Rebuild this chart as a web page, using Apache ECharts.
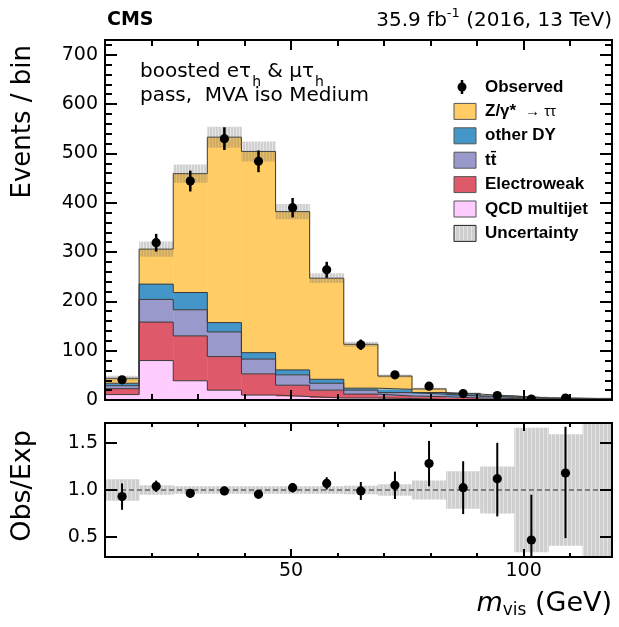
<!DOCTYPE html>
<html><head><meta charset="utf-8">
<script src="https://cdn.jsdelivr.net/npm/echarts@6/dist/echarts.min.js"></script>
<style>html,body{margin:0;padding:0;background:#fff}#c{width:619px;height:627px}</style>
</head><body><div id="c"></div>
<script>
// ---------------- data ----------------
const binEdges = [10, 17.33, 24.67, 32, 39.33, 46.67, 54, 61.33, 68.67, 76, 83.33, 90.67, 98, 105.33, 112.67, 120];
const qcdMultijet = [11, 80, 39, 20, 10, 7, 4, 4, 3, 1, 0.5, 0.3, 0.2, 0.1, 0.1];
const electroweak = [12, 78, 91, 68, 43, 23, 16, 8, 5, 5.7, 3.5, 2.7, 1.5, 1.2, 1.0];
const ttbar       = [6, 46, 53, 50, 30, 21, 14, 8, 7, 5, 4, 2.4, 1.5, 1.2, 0.8];
const otherDY     = [5, 31, 35, 19, 13, 10, 8, 4, 6.6, 3.5, 4, 2.6, 1.0, 0.9, 0.6];
const zTauTau     = [10, 71, 241, 376, 408, 321, 205, 89, 27, 7.3, 1.2, 0, 0.1, 0, 0];
const uncertaintyRel = [0.115, 0.05, 0.04, 0.04, 0.04, 0.04, 0.04, 0.045, 0.06, 0.1, 0.2, 0.25, 0.66, 0.59, 1.0];
const observed    = [41, 319, 444, 530, 484, 390, 264, 112, 51, 28, 13, 9, 2, 4];
const observedErr = [6.4, 17.9, 21.1, 23, 22, 19.7, 16.2, 10.6, 7.1, 5.3, 3.6, 3, 1.4, 2];
const ratio        = [0.93, 1.04, 0.965, 0.99, 0.955, 1.025, 1.07, 0.99, 1.05, 1.28, 1.025, 1.12, 0.47, 1.18];
const ratioErrUp   = [0.14, 0.06, 0.045, 0.045, 0.045, 0.05, 0.065, 0.095, 0.145, 0.24, 0.28, 0.38, 0.48, 0.49];
const ratioErrDown = [0.14, 0.06, 0.045, 0.045, 0.045, 0.05, 0.065, 0.095, 0.145, 0.24, 0.28, 0.40, 0.47, 0.69];
const xMajorTicks = [50, 100];
const xMinorTicks = [20, 30, 40, 60, 70, 80, 90, 110];
const yMajorTicks = [0, 100, 200, 300, 400, 500, 600, 700];
const yMinorTicks = [20, 40, 60, 80, 120, 140, 160, 180, 220, 240, 260, 280, 320, 340, 360, 380, 420, 440, 460, 480, 520, 540, 560, 580, 620, 640, 660, 680, 720];
const ratioTicks = [0.5, 1.0, 1.5];
const legendLabels = ['Observed', 'Z/γ*', 'other DY', 'tt\u0304', 'Electroweak', 'QCD multijet', 'Uncertainty'];

// ---------------- style / layout ----------------
const X_MIN = 10, X_MAX = 119, Y_MAX = 730, R_MIN = 0.29, R_MAX = 1.71;
const FONT = 'DejaVu Sans';
const COLORS = {qcd:'#ffccff', ewk:'#de5a6a', tt:'#9999cc', dy:'#4496c8', ztt:'#ffcc66'};

function stripePattern(c1, c2, w1, w2) {
  const cv = document.createElement('canvas');
  cv.width = w1 + w2; cv.height = 4;
  const ctx = cv.getContext('2d');
  ctx.fillStyle = c1; ctx.fillRect(0, 0, w1, 4);
  ctx.fillStyle = c2; ctx.fillRect(w1, 0, w2, 4);
  return {image: cv, repeat: 'repeat'};
}
const mainBandFill = stripePattern('rgba(100,100,100,0.30)', 'rgba(100,100,100,0.16)', 2, 1);
const ratioBandFill = stripePattern('#cfcfcf', '#e3e3e3', 3, 1);

function rectRender(fill) {
  return function (params, api) {
    const p0 = api.coord([api.value(0), api.value(2)]);
    const p1 = api.coord([api.value(1), api.value(3)]);
    return {type: 'rect', shape: {x: p0[0], y: p1[1], width: p1[0] - p0[0] + 0.4, height: p0[1] - p1[1]},
            style: {fill: fill}};
  };
}
function pointRender(lw, r) {
  return function (params, api) {
    const x = api.value(0), y = api.value(1), up = api.value(2), dn = api.value(3);
    const c = api.coord([x, y]), t = api.coord([x, y + up]), b = api.coord([x, y - dn]);
    return {type: 'group', children: [
      {type: 'line', shape: {x1: c[0], y1: t[1], x2: c[0], y2: b[1]}, style: {stroke: '#000', lineWidth: lw}},
      {type: 'circle', shape: {cx: c[0], cy: c[1], r: r}, style: {fill: '#000'}}
    ]};
  };
}

const nb = binEdges.length - 1;
const layers = [
  {vals: qcdMultijet, color: COLORS.qcd},
  {vals: electroweak, color: COLORS.ewk},
  {vals: ttbar, color: COLORS.tt},
  {vals: otherDY, color: COLORS.dy},
  {vals: zTauTau, color: COLORS.ztt}
];
const series = [];
let base = new Array(nb).fill(0);
const outlines = [];
layers.forEach(function (L) {
  const data = [];
  const top = [];
  for (let i = 0; i < nb; i++) {
    data.push([binEdges[i], binEdges[i + 1], base[i], base[i] + L.vals[i]]);
    top.push(base[i] + L.vals[i]);
  }
  series.push({type: 'custom', xAxisIndex: 0, yAxisIndex: 0, clip: true, silent: true,
    renderItem: rectRender(L.color), encode: {x: [0, 1], y: [2, 3]}, data: data, z: 2});
  const line = [];
  for (let i = 0; i < nb; i++) { line.push([binEdges[i], top[i]]); line.push([binEdges[i + 1], top[i]]); }
  outlines.push(line);
  base = top;
});
const total = base;
outlines.forEach(function (line) {
  series.push({type: 'line', xAxisIndex: 0, yAxisIndex: 0, data: line, symbol: 'none', clip: true, silent: true,
    lineStyle: {color: '#3a3a3a', width: 1}, z: 3});
});
// uncertainty band (main)
series.push({type: 'custom', xAxisIndex: 0, yAxisIndex: 0, clip: true, silent: true, z: 4,
  renderItem: rectRender(mainBandFill), encode: {x: [0, 1], y: [2, 3]},
  data: total.map(function (t, i) { return [binEdges[i], binEdges[i + 1], Math.max(0, t * (1 - uncertaintyRel[i])), t * (1 + uncertaintyRel[i])]; })});
// observed (main)
series.push({type: 'custom', xAxisIndex: 0, yAxisIndex: 0, clip: true, silent: true, z: 6,
  renderItem: pointRender(2.5, 4.6), encode: {x: 0, y: 1},
  data: observed.map(function (v, i) { return [(binEdges[i] + binEdges[i + 1]) / 2, v, observedErr[i], observedErr[i]]; })});
// ratio band
series.push({type: 'custom', xAxisIndex: 4, yAxisIndex: 4, clip: true, silent: true, z: 2,
  renderItem: rectRender(ratioBandFill), encode: {x: [0, 1], y: [2, 3]},
  data: uncertaintyRel.map(function (u, i) { return [binEdges[i], binEdges[i + 1], 1 - u, 1 + u]; })});
// reference line at 1
series.push({type: 'line', xAxisIndex: 4, yAxisIndex: 4, data: [[X_MIN, 1], [X_MAX, 1]], symbol: 'none', silent: true, z: 3,
  lineStyle: {color: '#808080', width: 2, type: [5, 3]}});
// ratio points
series.push({type: 'custom', xAxisIndex: 4, yAxisIndex: 4, clip: true, silent: true, z: 6,
  renderItem: pointRender(2, 4.6), encode: {x: 0, y: 1},
  data: ratio.map(function (v, i) { return [(binEdges[i] + binEdges[i + 1]) / 2, v, ratioErrUp[i], ratioErrDown[i]]; })});

// ---------------- axes ----------------
function xAx(grid, pos, ticks, len, labels) {
  return {type: 'value', gridIndex: grid, position: pos, min: X_MIN, max: X_MAX, z: 10,
    axisLine: {show: true, onZero: false, lineStyle: {color: '#000', width: 2}},
    axisTick: {show: true, inside: true, length: len, customValues: ticks, lineStyle: {color: '#000', width: 2}},
    axisLabel: labels ? {show: true, customValues: ticks, margin: 5, fontFamily: FONT, fontSize: 19, color: '#000'} : {show: false},
    splitLine: {show: false}};
}
function yAx(grid, pos, min, max, ticks, len, labels, fmt) {
  return {type: 'value', gridIndex: grid, position: pos, min: min, max: max, z: 10,
    axisLine: {show: true, onZero: false, lineStyle: {color: '#000', width: 2}},
    axisTick: {show: true, inside: true, length: len, customValues: ticks, lineStyle: {color: '#000', width: 2}},
    axisLabel: labels ? {show: true, customValues: ticks, margin: 7, fontFamily: FONT, fontSize: 19, color: '#000', formatter: fmt} : {show: false},
    splitLine: {show: false}};
}

const option = {
  animation: false,
  backgroundColor: '#fff',
  grid: [
    {left: 105, top: 40, width: 507, height: 360},
    {left: 105, top: 423, width: 507, height: 134}
  ],
  xAxis: [
    xAx(0, 'bottom', xMajorTicks, 10, false),
    xAx(0, 'bottom', xMinorTicks, 6, false),
    xAx(0, 'top', xMajorTicks, 10, false),
    xAx(0, 'top', xMinorTicks, 6, false),
    xAx(1, 'bottom', xMajorTicks, 8, true),
    xAx(1, 'bottom', xMinorTicks, 4, false),
    xAx(1, 'top', xMajorTicks, 8, false),
    xAx(1, 'top', xMinorTicks, 4, false)
  ],
  yAxis: [
    yAx(0, 'left', 0, Y_MAX, yMajorTicks, 12, true, function (v) { return String(v); }),
    yAx(0, 'left', 0, Y_MAX, yMinorTicks, 7, false),
    yAx(0, 'right', 0, Y_MAX, yMajorTicks, 12, false),
    yAx(0, 'right', 0, Y_MAX, yMinorTicks, 7, false),
    yAx(1, 'left', R_MIN, R_MAX, ratioTicks, 12, true, function (v) { return v.toFixed(1); }),
    yAx(1, 'right', R_MIN, R_MAX, ratioTicks, 12, false)
  ],
  series: series,
  graphic: []
};

// ---------------- texts & legend ----------------
const G = option.graphic;
G.push({type: 'text', x: 107, y: 20, z: 100, style: {text: 'CMS', font: 'bold 19px "DejaVu Sans"', fill: '#000', align: 'left', verticalAlign: 'middle'}});
G.push({type: 'text', x: 612, y: 21, z: 100, style: {
  text: '{a|35.9 fb}{s|-1}{a| (2016, 13 TeV)}', align: 'right', verticalAlign: 'middle', fill: '#000',
  rich: {a: {fontFamily: FONT, fontSize: 20, fill: '#000'}, s: {fontFamily: FONT, fontSize: 13, fill: '#000', padding: [0, 0, 14, 0]}}}});
G.push({type: 'text', x: 140, y: 72, z: 100, style: {
  text: '{a|boosted eτ}{s|h}{a| & μτ}{s|h}', align: 'left', verticalAlign: 'middle', fill: '#000',
  rich: {a: {fontFamily: FONT, fontSize: 20, fill: '#000'}, s: {fontFamily: FONT, fontSize: 14, fill: '#000', padding: [20, 0, 0, 1]}}}});
G.push({type: 'text', x: 140, y: 96, z: 100, style: {text: 'pass,  MVA iso Medium', font: '20px "DejaVu Sans"', fill: '#000', align: 'left', verticalAlign: 'middle'}});
G.push({type: 'text', x: 23, y: 45, rotation: Math.PI / 2, z: 100, style: {text: 'Events / bin', font: '26px "DejaVu Sans"', fill: '#000', align: 'right', verticalAlign: 'middle'}});
G.push({type: 'text', x: 23, y: 486, rotation: Math.PI / 2, z: 100, style: {text: 'Obs/Exp', font: '27px "DejaVu Sans"', fill: '#000', align: 'center', verticalAlign: 'middle'}});
G.push({type: 'text', x: 612, y: 604, z: 100, style: {
  text: '{m|m}{s|vis}{a| (GeV)}', align: 'right', verticalAlign: 'middle', fill: '#000',
  rich: {m: {fontFamily: FONT, fontStyle: 'italic', fontSize: 27, fill: '#000'},
         s: {fontFamily: FONT, fontSize: 17, fill: '#000', padding: [14, 0, 0, 0]},
         a: {fontFamily: FONT, fontSize: 27, fill: '#000'}}}});

// legend
const LX = 454, LT = 485, LY0 = 87, LDY = 24.4;
const LFONT = 'bold 17px "Liberation Sans"';
G.push({type: 'line', z: 100, shape: {x1: 462, y1: LY0 - 7, x2: 462, y2: LY0 + 7}, style: {stroke: '#000', lineWidth: 2.5}});
G.push({type: 'circle', z: 100, shape: {cx: 462, cy: LY0, r: 4.5}, style: {fill: '#000'}});
G.push({type: 'text', x: LT, y: LY0, z: 100, style: {text: legendLabels[0], font: LFONT, fill: '#000', align: 'left', verticalAlign: 'middle'}});
const boxFills = [COLORS.ztt, COLORS.dy, COLORS.tt, COLORS.ewk, COLORS.qcd, ratioBandFill];
for (let k = 0; k < 6; k++) {
  const y = LY0 + (k + 1) * LDY;
  G.push({type: 'rect', z: 100, shape: {x: LX, y: y - 8, width: 22, height: 16},
    style: {fill: boxFills[k], stroke: k === 5 ? '#222' : '#555', lineWidth: 1}});
  if (k === 0) {
    G.push({type: 'text', x: LT, y: y, z: 100, style: {text: legendLabels[1], font: LFONT, fill: '#000', align: 'left', verticalAlign: 'middle'}});
    G.push({type: 'text', x: LT + 40, y: y, z: 100, style: {text: '→ ττ', font: '15px "Liberation Sans"', fill: '#000', align: 'left', verticalAlign: 'middle'}});
  } else {
    G.push({type: 'text', x: LT, y: y, z: 100, style: {text: legendLabels[k + 1], font: LFONT, fill: '#000', align: 'left', verticalAlign: 'middle'}});
  }
}

const chart = echarts.init(document.getElementById('c'), null, {renderer: 'canvas', width: 619, height: 627});
chart.setOption(option);
</script>
</body></html>
